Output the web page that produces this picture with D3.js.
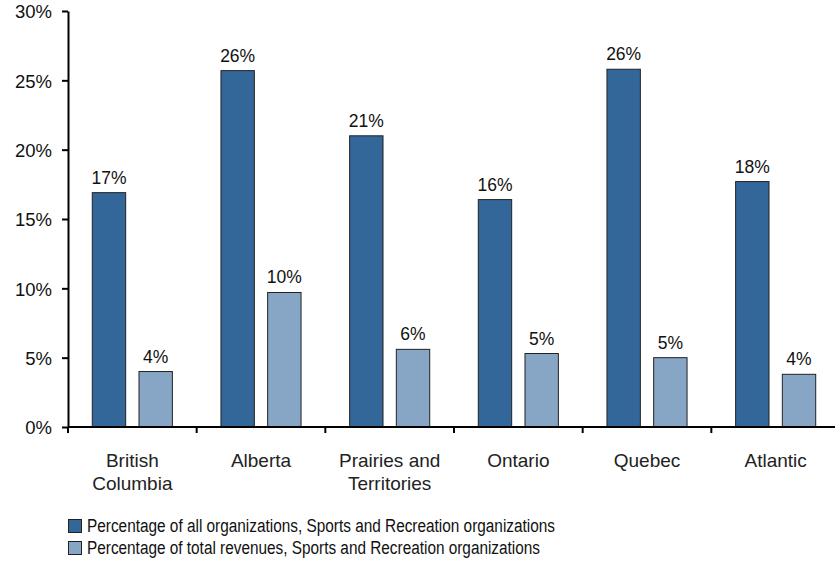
<!DOCTYPE html>
<html>
<head>
<meta charset="utf-8">
<script src="https://cdn.jsdelivr.net/npm/d3@7"></script>
<style>
  body { margin: 0; background: #fff; }
  text { font-family: "Liberation Sans", Arial, sans-serif; fill: #111; }
</style>
</head>
<body>
<svg id="chart" width="835" height="562"></svg>
<script>
var regions = [['British', 'Columbia'], ['Alberta'], ['Prairies and', 'Territories'], ['Ontario'], ['Quebec'], ['Atlantic']];
var orgShare = [16.9, 25.7, 21.0, 16.4, 25.8, 17.7];
var revShare = [4.0, 9.7, 5.6, 5.3, 5.0, 3.8];
var valueLabels1 = ['17%', '26%', '21%', '16%', '26%', '18%'];
var valueLabels2 = ['4%', '10%', '6%', '5%', '5%', '4%'];
var seriesNames = ['Percentage of all organizations, Sports and Recreation organizations',
                   'Percentage of total revenues, Sports and Recreation organizations'];
var colors = ['#336699', '#87a5c5'];
var yTicks = [0, 5, 10, 15, 20, 25, 30];

var svg = d3.select('#chart');
var plotLeft = 68, plotTop = 11, plotBottom = 427, plotRight = 840;

var keys = regions.map(function(d, i) { return 'r' + i; });

var x = d3.scaleBand()
    .domain(keys)
    .range([plotLeft, plotRight])
    .padding(0);

var x1 = d3.scaleBand()
    .domain([0, 1])
    .range([0, x.bandwidth()])
    .paddingInner(0.285)
    .paddingOuter(0.52);

var y = d3.scaleLinear()
    .domain([0, 30])
    .range([plotBottom, plotTop]);

// y axis
var yAxis = svg.append('g')
    .attr('transform', 'translate(' + plotLeft + ',0)')
    .call(d3.axisLeft(y).tickValues(yTicks).tickSize(6).tickSizeOuter(0)
        .tickFormat(function(d) { return d + '%'; }));
yAxis.select('.domain').attr('stroke', '#000').attr('stroke-width', 2);
yAxis.selectAll('.tick line').attr('stroke', '#000').attr('stroke-width', 2);
yAxis.selectAll('.tick text')
    .attr('x', -16)
    .attr('dy', '0.36em')
    .style('font-size', '18.5px')
    .style('font-family', '"Liberation Sans", Arial, sans-serif')
    .attr('fill', '#111');

// bars
var series = [orgShare, revShare];
var seriesLabels = [valueLabels1, valueLabels2];
var barData = [];
keys.forEach(function(k, i) {
    series.forEach(function(s, j) {
        barData.push({ key: k, s: j, v: s[i], label: seriesLabels[j][i] });
    });
});

svg.append('g')
    .selectAll('rect')
    .data(barData)
    .enter()
    .append('rect')
    .attr('x', function(d) { return x(d.key) + x1(d.s); })
    .attr('y', function(d) { return y(d.v); })
    .attr('width', x1.bandwidth())
    .attr('height', function(d) { return y(0) - y(d.v); })
    .attr('fill', function(d) { return colors[d.s]; })
    .attr('stroke', '#222')
    .attr('stroke-width', 1);

svg.append('g')
    .selectAll('text')
    .data(barData)
    .enter()
    .append('text')
    .attr('x', function(d) { return x(d.key) + x1(d.s) + x1.bandwidth() / 2; })
    .attr('y', function(d) { return y(d.v) - 9; })
    .attr('text-anchor', 'middle')
    .style('font-size', '17.5px')
    .text(function(d) { return d.label; });

// x axis
svg.append('line')
    .attr('x1', plotLeft).attr('x2', plotRight)
    .attr('y1', plotBottom).attr('y2', plotBottom)
    .attr('stroke', '#000').attr('stroke-width', 2);

svg.append('g')
    .selectAll('line')
    .data(keys)
    .enter()
    .append('line')
    .attr('x1', function(d) { return x(d); })
    .attr('x2', function(d) { return x(d); })
    .attr('y1', plotBottom)
    .attr('y2', plotBottom + 6)
    .attr('stroke', '#000').attr('stroke-width', 2);

var catLabels = svg.append('g')
    .selectAll('text')
    .data(keys)
    .enter()
    .append('text')
    .attr('x', function(d) { return x(d) + x.bandwidth() / 2; })
    .attr('y', 467)
    .attr('text-anchor', 'middle')
    .style('font-size', '19px')
    .style('fill', '#222');

catLabels.each(function(d, i) {
    var t = d3.select(this);
    regions[i].forEach(function(line, k) {
        t.append('tspan')
            .attr('x', x(d) + x.bandwidth() / 2)
            .attr('dy', k === 0 ? 0 : 23)
            .text(line);
    });
});

// legend
var legendWidths = [468, 453];
var legend = svg.append('g')
    .selectAll('g')
    .data(seriesNames)
    .enter()
    .append('g')
    .attr('transform', function(d, i) { return 'translate(68,' + (519 + i * 22) + ')'; });

legend.append('rect')
    .attr('x', 0.5).attr('y', 0.5)
    .attr('width', 13).attr('height', 13)
    .attr('fill', function(d, i) { return colors[i]; })
    .attr('stroke', '#222');

legend.append('text')
    .attr('x', 19)
    .attr('y', 13)
    .style('font-size', '18px')
    .attr('textLength', function(d, i) { return legendWidths[i]; })
    .attr('lengthAdjust', 'spacingAndGlyphs')
    .text(function(d) { return d; });
</script>
</body>
</html>
